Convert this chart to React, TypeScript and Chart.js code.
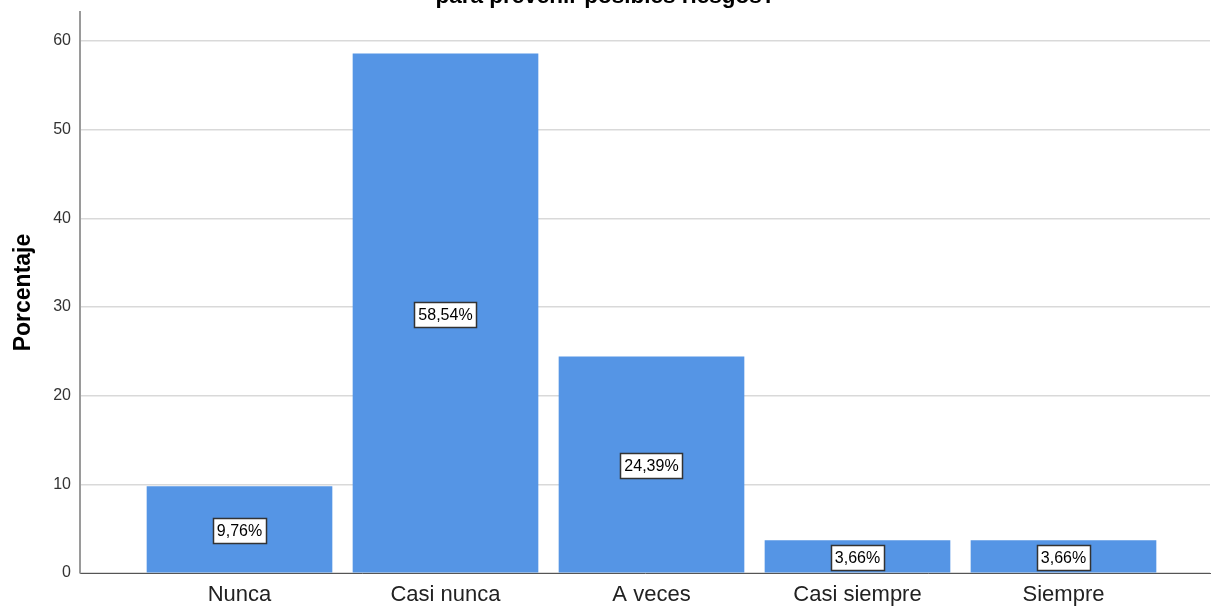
import React, { useEffect, useRef } from "react";
import { Chart, registerables } from "chart.js";

Chart.register(...registerables);

const categories = ["Nunca", "Casi nunca", "A veces", "Casi siempre", "Siempre"];
const percentages = [9.76, 58.54, 24.39, 3.66, 3.66];
const yTicks = [0, 10, 20, 30, 40, 50, 60];
const titleText = "para prevenir posibles riesgos?";
const yTitle = "Porcentaje";

const FONT = "'Liberation Sans', Arial, sans-serif";

const labelPlugin = {
  id: "valueBoxes",
  afterDatasetsDraw(chart: any) {
    const ctx = chart.ctx;
    const meta = chart.getDatasetMeta(0);
    ctx.save();
    ctx.font = `16px ${FONT}`;
    ctx.textAlign = "center";
    ctx.textBaseline = "middle";
    meta.data.forEach((bar: any, i: number) => {
      const txt = percentages[i].toFixed(2).replace(".", ",") + "%";
      const w = ctx.measureText(txt).width + 8;
      const h = 25;
      const cx = bar.x;
      const cy = (bar.y + bar.base) / 2 + 1.5;
      ctx.fillStyle = "#ffffff";
      ctx.fillRect(Math.round(cx - w / 2) + 0.5, Math.round(cy - h / 2) + 0.5, Math.round(w), h);
      ctx.strokeStyle = "#333333";
      ctx.lineWidth = 1.5;
      ctx.strokeRect(Math.round(cx - w / 2) + 0.5, Math.round(cy - h / 2) + 0.5, Math.round(w), h);
      ctx.fillStyle = "#000000";
      ctx.fillText(txt, cx, cy + 1);
    });
    ctx.restore();
  },
};

const titlePlugin = {
  id: "cutTitle",
  afterDraw(chart: any) {
    const ctx = chart.ctx;
    ctx.save();
    ctx.font = `bold 22.5px ${FONT}`;
    ctx.fillStyle = "#000000";
    ctx.textAlign = "center";
    ctx.textBaseline = "alphabetic";
    ctx.fillText(titleText, chart.width / 2, 2.5);
    ctx.restore();
  },
};

export default function App() {
  const ref = useRef<HTMLCanvasElement>(null);

  useEffect(() => {
    if (!ref.current) return;
    const chart = new Chart(ref.current, {
      type: "bar",
      data: {
        datasets: [
          {
            data: percentages.map((v, i) => ({ x: i, y: v })),
            backgroundColor: "#5595e5",
            borderWidth: 0,
            barThickness: 185,
          },
        ],
      },
      plugins: [labelPlugin, titlePlugin],
      options: {
        responsive: false,
        animation: false,
        devicePixelRatio: 1,
        layout: { padding: { top: 12, right: 1, left: 0, bottom: 0 } },
        plugins: {
          legend: { display: false },
          tooltip: { enabled: false },
          title: { display: false },
        },
        scales: {
          x: {
            type: "linear",
            min: -0.7743,
            max: 4.7112,
            offset: false,
            grid: { display: false, drawTicks: false },
            border: { display: true, color: "#555555", width: 1 },
            afterBuildTicks: (scale: any) => {
              scale.ticks = categories.map((_, i) => ({ value: i }));
            },
            afterFit: (scale: any) => {
              scale.height = 35;
              scale.paddingLeft = 0;
              scale.paddingRight = 0;
            },
            ticks: {
              autoSkip: false,
              maxRotation: 0,
              padding: 9,
              color: "#222222",
              font: { family: FONT, size: 22 },
              callback: (v: any) => categories[Math.round(Number(v))] ?? "",
            },
          },
          y: {
            min: 0,
            max: 63.27,
            afterBuildTicks: (scale: any) => {
              scale.ticks = yTicks.map((v) => ({ value: v }));
            },
            afterFit: (scale: any) => {
              scale.width = 80;
              scale.paddingTop = 0;
              scale.paddingBottom = 0;
            },
            grid: { color: "#d9d9d9", lineWidth: 1.5, drawTicks: false },
            border: { display: true, color: "#9a9a9a", width: 2 },
            ticks: {
              padding: 9,
              color: "#333333",
              font: { family: FONT, size: 16 },
            },
            title: {
              display: true,
              text: yTitle,
              color: "#000000",
              font: { family: FONT, size: 23, weight: "bold" },
              padding: { top: 10, bottom: 0 },
            },
          },
        },
      },
    });
    return () => chart.destroy();
  }, []);

  return (
    <div style={{ position: "fixed", left: 0, top: 0, width: 1211, height: 608, background: "#ffffff" }}>
      <canvas ref={ref} width={1211} height={608} style={{ display: "block", width: 1211, height: 608 }} />
    </div>
  );
}
